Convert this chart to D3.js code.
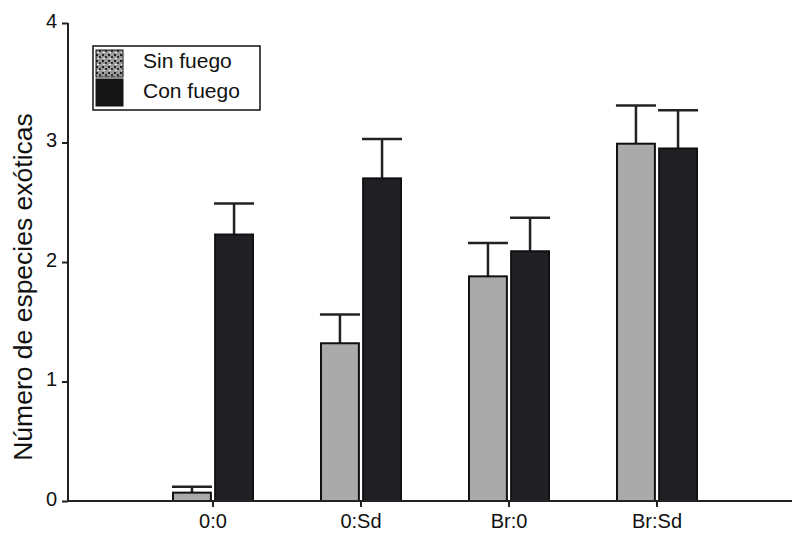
<!DOCTYPE html>
<html><head><meta charset="utf-8">
<script src="https://cdn.jsdelivr.net/npm/d3@7"></script>
<style>body{margin:0;background:#fff}svg{display:block}text{font-family:"Liberation Sans",Arial,sans-serif;fill:#111}</style>
</head><body><svg id="c" width="796" height="534"></svg>
<script>
const categories = ["0:0", "0:Sd", "Br:0", "Br:Sd"];
const seriesNames = ["Sin fuego", "Con fuego"];
const sinFuego = [0.07, 1.32, 1.88, 2.99];
const conFuego = [2.23, 2.70, 2.09, 2.95];
const sinFuegoErr = [0.05, 0.24, 0.28, 0.32];
const conFuegoErr = [0.26, 0.33, 0.28, 0.32];
const yTicks = [0, 1, 2, 3, 4];
const yLabel = "Número de especies exóticas";

const svg = d3.select("#c");
const x = d3.scaleBand().domain(categories).range([139, 731]);
const y = d3.scaleLinear().domain([0, 4]).range([501, 23]);
const sub = d3.scaleBand().domain(seriesNames).range([-40, 40]).paddingInner(0.1);
const fills = {"Sin fuego": "#a9aaa9", "Con fuego": "#1f1f24"};

const defs = svg.append("defs");
const pat = defs.append("pattern").attr("id", "noise").attr("width", 6).attr("height", 6).attr("patternUnits", "userSpaceOnUse");
pat.append("rect").attr("width", 6).attr("height", 6).attr("fill", "#9a9a9a");
pat.append("rect").attr("x", 0).attr("y", 0).attr("width", 2).attr("height", 2).attr("fill", "#222");
pat.append("rect").attr("x", 3).attr("y", 2).attr("width", 2).attr("height", 2).attr("fill", "#333");
pat.append("rect").attr("x", 1).attr("y", 4).attr("width", 2).attr("height", 1).attr("fill", "#eee");

const data = [];
categories.forEach((c, i) => {
  data.push({cat: c, s: "Sin fuego", v: sinFuego[i], e: sinFuegoErr[i]});
  data.push({cat: c, s: "Con fuego", v: conFuego[i], e: conFuegoErr[i]});
});

const g = svg.append("g");
data.forEach(d => {
  const cx = x(d.cat) + x.bandwidth() / 2 + sub(d.s) + sub.bandwidth() / 2;
  g.append("line").attr("x1", cx).attr("x2", cx).attr("y1", y(d.v)).attr("y2", y(d.v + d.e))
    .attr("stroke", "#222").attr("stroke-width", 2.5);
  g.append("line").attr("x1", cx - 20).attr("x2", cx + 20).attr("y1", y(d.v + d.e)).attr("y2", y(d.v + d.e))
    .attr("stroke", "#222").attr("stroke-width", 2.5);
});
g.selectAll("rect.bar").data(data).join("rect").attr("class", "bar")
  .attr("x", d => x(d.cat) + x.bandwidth() / 2 + sub(d.s))
  .attr("width", sub.bandwidth())
  .attr("y", d => y(d.v))
  .attr("height", d => y(0) - y(d.v))
  .attr("fill", d => fills[d.s])
  .attr("stroke", "#111").attr("stroke-width", 2);

const yAxis = svg.append("g").attr("transform", "translate(68,0)")
  .call(d3.axisLeft(y).tickValues(yTicks).tickFormat(d3.format("d")).tickSize(6).tickPadding(5));
yAxis.select(".domain").attr("d", `M0,${y(4)}V${y(0)}`).attr("stroke", "#222").attr("stroke-width", 2);
yAxis.selectAll(".tick line").attr("stroke", "#222").attr("stroke-width", 2);
yAxis.selectAll(".tick text").attr("font-size", 20).attr("fill", "#111").attr("dy", "0.2em")
  .attr("font-family", "Liberation Sans, Arial, sans-serif");

const xAxis = svg.append("g").attr("transform", `translate(0,${y(0)})`)
  .call(d3.axisBottom(x).tickSize(6).tickPadding(4));
xAxis.select(".domain").attr("d", "M68,0H792").attr("stroke", "#222").attr("stroke-width", 2);
xAxis.selectAll(".tick line").attr("stroke", "#222").attr("stroke-width", 2);
xAxis.selectAll(".tick text").attr("font-size", 20).attr("fill", "#111").attr("dy", "0.85em")
  .attr("font-family", "Liberation Sans, Arial, sans-serif");

svg.append("text").attr("transform", "translate(32,287) rotate(-90)")
  .attr("text-anchor", "middle").attr("font-size", 26.5).text(yLabel);

const lg = svg.append("g");
lg.append("rect").attr("x", 93).attr("y", 46).attr("width", 167).attr("height", 64)
  .attr("fill", "#fff").attr("stroke", "#111").attr("stroke-width", 1.5);
seriesNames.forEach((s, i) => {
  lg.append("rect").attr("x", 96).attr("y", 50 + i * 29).attr("width", 27).attr("height", 27)
    .attr("fill", i === 0 ? "url(#noise)" : "#151515").attr("stroke", "#111").attr("stroke-width", 1);
  lg.append("text").attr("x", 143).attr("y", 68 + i * 30).attr("font-size", 21).text(s);
});
</script></body></html>
